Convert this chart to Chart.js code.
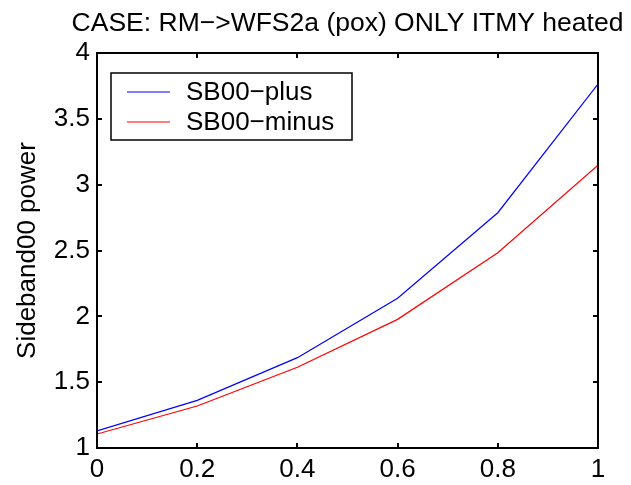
<!DOCTYPE html>
<html>
<head>
<meta charset="utf-8">
<script src="https://cdn.jsdelivr.net/npm/chart.js@4/dist/chart.umd.min.js"></script>
<style>
html,body{margin:0;padding:0;background:#fff;}
#wrap{width:631px;height:485px;position:relative;}
</style>
</head>
<body>
<div id="wrap"><canvas id="c" width="631" height="485"></canvas></div>
<script>
const xValues = [0, 0.2, 0.4, 0.6, 0.8, 1];
const sbPlus  = [1.13, 1.362, 1.686, 2.137, 2.787, 3.764];
const sbMinus = [1.106, 1.319, 1.613, 1.977, 2.483, 3.147];
const seriesNames = ['SB00\u2212plus', 'SB00\u2212minus'];
const xTicks = [0, 0.2, 0.4, 0.6, 0.8, 1];
const yTicks = [1, 1.5, 2, 2.5, 3, 3.5, 4];
const titleText = 'CASE: RM\u2212>WFS2a (pox) ONLY ITMY heated';
const yLabel = 'Sideband00 power';

const FONT = 'Liberation Sans, Arial, Helvetica, sans-serif';
const FS = 26;

const boxPlugin = {
  id: 'matlabBox',
  afterDraw(chart) {
    const ctx = chart.ctx;
    const a = chart.chartArea;
    const xs = chart.scales.x, ys = chart.scales.y;
    ctx.save();
    // title centred over the axes
    ctx.fillStyle = '#000';
    ctx.font = '26.5px ' + FONT;
    ctx.textAlign = 'center';
    ctx.textBaseline = 'alphabetic';
    ctx.fillText(titleText, (a.left + a.right) / 2, 31);

    ctx.strokeStyle = '#000';
    ctx.lineWidth = 2;
    ctx.strokeRect(a.left, a.top, a.right - a.left, a.bottom - a.top);
    const tl = 5;
    ctx.beginPath();
    xTicks.forEach(v => {
      const px = Math.round(xs.getPixelForValue(v));
      ctx.moveTo(px, a.bottom); ctx.lineTo(px, a.bottom - tl);
      ctx.moveTo(px, a.top); ctx.lineTo(px, a.top + tl);
    });
    yTicks.forEach(v => {
      const py = Math.round(ys.getPixelForValue(v));
      ctx.moveTo(a.left, py); ctx.lineTo(a.left + tl, py);
      ctx.moveTo(a.right, py); ctx.lineTo(a.right - tl, py);
    });
    ctx.stroke();

    // legend
    const lx = 111, ly = 73, lw = 241, lh = 67;
    ctx.fillStyle = '#fff';
    ctx.fillRect(lx, ly, lw, lh);
    ctx.lineWidth = 1.5;
    ctx.strokeRect(lx, ly, lw, lh);
    ctx.font = FS + 'px ' + FONT;
    ctx.textBaseline = 'middle';
    ctx.textAlign = 'left';
    chart.data.datasets.forEach((ds, i) => {
      const yy = 92 + i * 30;
      ctx.strokeStyle = ds.borderColor;
      ctx.lineWidth = 1.2;
      ctx.beginPath();
      ctx.moveTo(127, yy); ctx.lineTo(170, yy);
      ctx.stroke();
      ctx.fillStyle = '#000';
      ctx.fillText(ds.label, 186, yy + 1);
    });
    ctx.restore();
  }
};

new Chart(document.getElementById('c'), {
  type: 'line',
  data: {
    datasets: [
      { label: seriesNames[0], data: xValues.map((x, i) => ({x, y: sbPlus[i]})), borderColor: '#0000ff', borderWidth: 1.2, pointRadius: 0, tension: 0, fill: false },
      { label: seriesNames[1], data: xValues.map((x, i) => ({x, y: sbMinus[i]})), borderColor: '#ff0000', borderWidth: 1.2, pointRadius: 0, tension: 0, fill: false }
    ]
  },
  options: {
    responsive: false,
    animation: false,
    devicePixelRatio: 1,
    layout: { padding: { left: 0, right: 33, top: 53, bottom: 0 } },
    plugins: {
      legend: { display: false },
      tooltip: { enabled: false },
      title: { display: false }
    },
    scales: {
      x: {
        type: 'linear', min: 0, max: 1,
        afterBuildTicks(s) { s.ticks = xTicks.map(v => ({value: v})); },
        afterFit(s) { s.height = 37; },
        grid: { display: false, drawTicks: false },
        border: { display: false },
        ticks: { color: '#000', font: { family: FONT, size: FS }, padding: 6, maxRotation: 0,
                 callback: v => String(v) }
      },
      y: {
        type: 'linear', min: 1, max: 4,
        afterBuildTicks(s) { s.ticks = yTicks.map(v => ({value: v})); },
        afterFit(s) { s.width = 97; },
        grid: { display: false, drawTicks: false },
        border: { display: false },
        ticks: { color: '#000', font: { family: FONT, size: FS }, padding: 7,
                 callback: v => String(v) },
        title: { display: true, text: yLabel, color: '#000',
                 font: { family: FONT, size: FS }, padding: { top: 12, bottom: 0 } }
      }
    }
  },
  plugins: [boxPlugin]
});
</script>
</body>
</html>
